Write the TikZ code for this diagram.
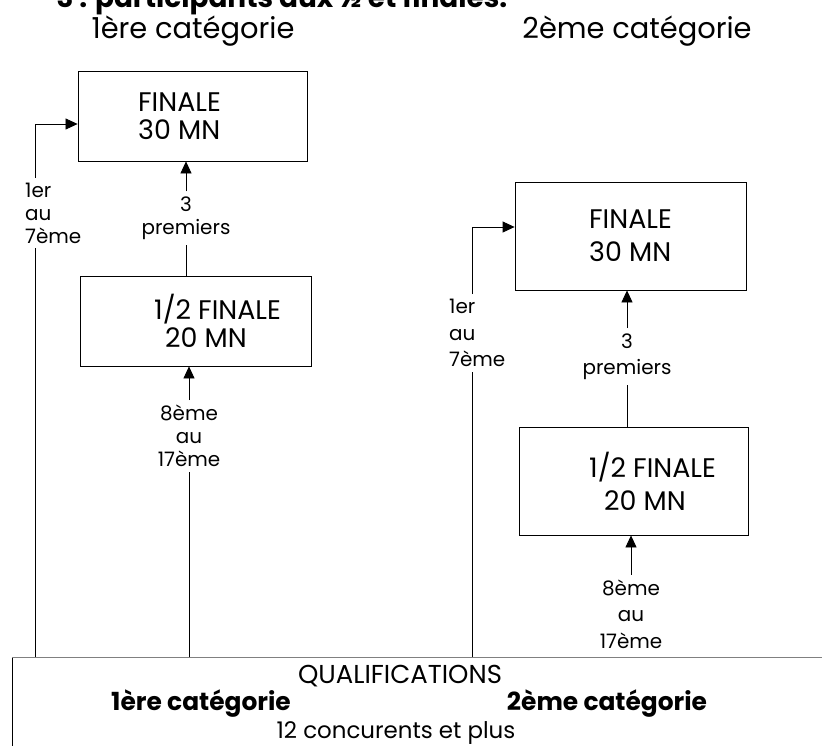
\documentclass[tikz,border=0pt]{standalone}
\usepackage{fontspec}
\setmainfont{Poppins}
\usetikzlibrary{arrows.meta, positioning}

\begin{document}
\begin{tikzpicture}[
  x=1bp, y=-1bp,
  box/.style={rectangle, draw, line width=0.8pt, align=left, inner sep=0pt,
              font=\fontsize{27}{28}\selectfont},
  tallbox/.style={box, font=\fontsize{27}{33}\selectfont},
  lab/.style={align=center, inner sep=5bp, font=\fontsize{20}{23}\selectfont},
  tallab/.style={lab, font=\fontsize{20}{26.5}\selectfont},
  head/.style={font=\fontsize{29}{34}\selectfont, anchor=base},
  wire/.style={line width=0.8pt},
  arr/.style={-{Triangle[length=12bp, width=11bp]}, line width=0.8pt}
]
  \useasboundingbox (0,0) rectangle (822,746);
  \clip (0,0) rectangle (822,746);

  % titles
  \node[font=\fontsize{28}{30}\selectfont\bfseries, anchor=base west] (title) at (53,8) {3 : participants aux ½ et finales.};
  \node[head] (cat1) at (193,39) {1ère catégorie};
  \node[head] (cat2) at (637,39) {2ème catégorie};

  % first category
  \node[box, minimum width=229bp, minimum height=90bp] (fin1) at (192.5,116) {FINALE\hspace*{26bp}\mbox{}\\30 MN};
  \node[box, minimum width=231bp, minimum height=90bp] (semi1) at (195.5,321) {\hspace*{44bp}1/2 FINALE\\\hspace*{55bp}20 MN};

  % second category
  \node[tallbox, minimum width=231bp, minimum height=108bp] (fin2) at (630.5,236) {FINALE\\30 MN};
  \node[tallbox, minimum width=229bp, minimum height=108bp] (semi2) at (633.5,481) {\hspace*{38bp}1/2 FINALE\\\hspace*{53bp}20 MN};

  % qualifications
  \node[draw, line width=0.8pt, minimum width=840bp, minimum height=120bp, anchor=north west] (qual) at (12,657) {};
  \draw[gray, line width=1pt] (qual.north west) -- (qual.north east);
  \node[font=\fontsize{26}{30}\selectfont, anchor=base] (qname) at (400,683) {QUALIFICATIONS};
  \node[font=\fontsize{25}{28}\selectfont\bfseries, anchor=base] (qcat1) at (201,710) {1ère catégorie};
  \node[font=\fontsize{25}{28}\selectfont\bfseries, anchor=base] (qcat2) at (607,710) {2ème catégorie};
  \node[font=\fontsize{23}{26}\selectfont, anchor=base] (qnb) at (396,738) {12 concurents et plus};

  \coordinate (q1) at (35,657);
  \coordinate (q2) at (472,657);

  % labels on the connectors
  \node[lab, align=left, anchor=west] (top1) at (20,213) {1er\\au\\7ème};
  \node[lab] (three1) at (186,218) {3\\premiers};
  \node[lab] (rest1) at (189,436) {8ème\\au\\17ème};
  \node[tallab, align=left, anchor=west] (top2) at (444,333) {1er\\au\\7ème};
  \node[tallab] (three2) at (627,356.5) {3\\premiers};
  \node[tallab] (rest2) at (631,614) {8ème\\au\\17ème};

  \draw[wire] (q1) -- (top1.south -| q1);
  \draw[arr] (top1.north -| q1) |- ([yshift=-8bp]fin1.west);
  \draw[wire] (three1 |- semi1.north) -- (three1);
  \draw[arr] (three1) -- (three1 |- fin1.south);
  \draw[wire] (rest1 |- qual.north) -- (rest1);
  \draw[arr] (rest1) -- (rest1 |- semi1.south);

  \draw[wire] (q2) -- (top2.south -| q2);
  \draw[arr] (top2.north -| q2) |- ([yshift=9bp]fin2.west);
  \draw[wire] (three2 |- semi2.north) -- (three2);
  \draw[arr] (three2) -- (three2 |- fin2.south);
  \draw[arr] (rest2) -- (rest2 |- semi2.south);
\end{tikzpicture}
\end{document}
